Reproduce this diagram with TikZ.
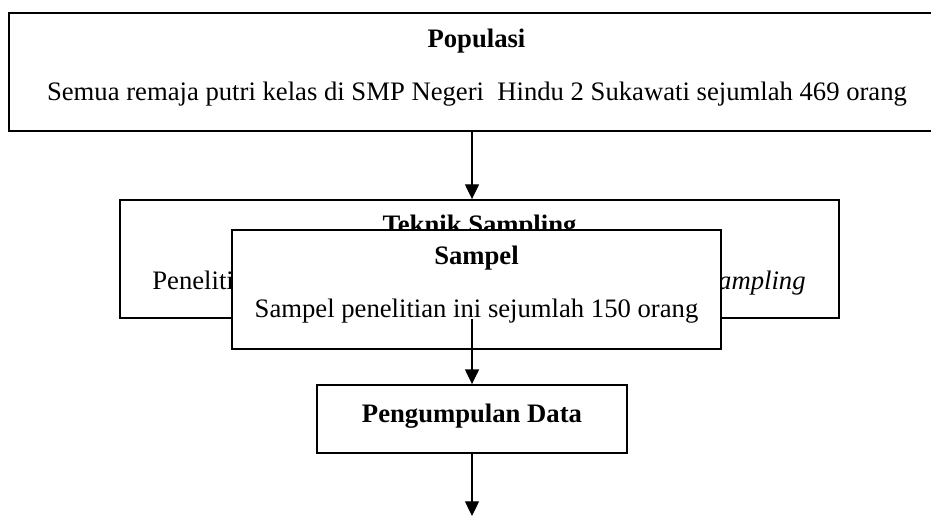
\documentclass[tikz,border=0pt]{standalone}
\usepackage{fontspec}
\setmainfont{Liberation Serif}
\usetikzlibrary{arrows.meta}
\begin{document}
\begin{tikzpicture}[x=0.75pt,y=-0.75pt,
  box/.style={draw, line width=1.4pt, fill=white, inner sep=0pt},
  ttl/.style={font=\fontsize{20}{24}\selectfont\bfseries, anchor=base, inner sep=0pt},
  body/.style={font=\fontsize{20}{24}\selectfont, anchor=base, inner sep=0pt},
  arr/.style={line width=0.9pt, -{Triangle[length=11pt,width=10.5pt]}}]
\useasboundingbox (0,0) rectangle (931,516);
% Populasi
\node[box, minimum width=702pt, minimum height=88.5pt] (pop) at (477,72) {};
\node[ttl] (popt) at (476.5,48) {Populasi};
\node[body] (popb) at (477,101) {Semua remaja putri kelas di SMP Negeri \ Hindu 2 Sukawati sejumlah 469 orang};
% Teknik Sampling
\node[box, minimum width=539.25pt, minimum height=88.5pt] (tek) at (479.5,259) {};
\node[ttl] (tekt) at (479.5,234) {Teknik Sampling};
\node[body] (tekb) at (479,290) {Penelitian ini menggunakan teknik \textit{Simple Random Sampling}};
% Sampel
\node[box, minimum width=366.75pt, minimum height=89.25pt] (sam) at (476.5,289.5) {};
\node[ttl] (samt) at (476.5,265) {Sampel};
\node[body] (samb) at (476.5,318) {Sampel penelitian ini sejumlah 150 orang};
% Pengumpulan Data
\node[box, minimum width=232.5pt, minimum height=51pt] (pg) at (472,419) {};
\node[ttl] (pgt) at (472,422) {Pengumpulan Data};
\coordinate (end) at (472,516);
% arrows
\draw[arr] (pop.south -| pg.north) -- (tek.north -| pg.north);
\draw[arr] (tek.south -| pg.north) -- (pg.north);
\draw[arr] (pg.south) -- (end);
\end{tikzpicture}
\end{document}
